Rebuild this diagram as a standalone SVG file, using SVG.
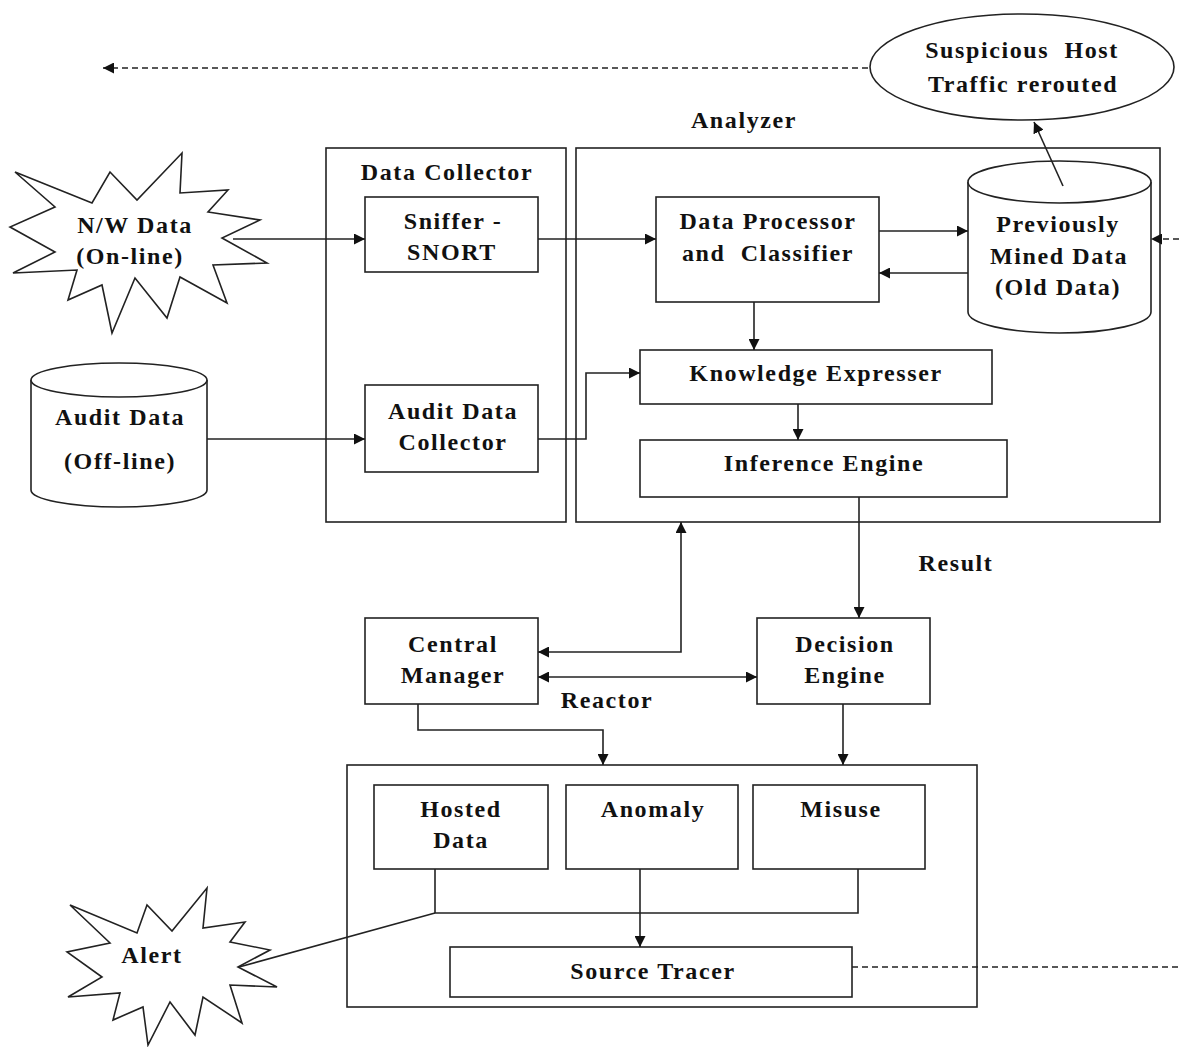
<svg xmlns="http://www.w3.org/2000/svg" width="1179" height="1047" viewBox="0 0 1179 1047">
<defs>
<style>
.b{fill:#fff;stroke:#222;stroke-width:1.6}
.f{fill:none;stroke:#222;stroke-width:1.6}
.c{fill:none;stroke:#222;stroke-width:1.6}
.d{fill:none;stroke:#222;stroke-width:1.6;stroke-dasharray:6 4}
text{font-family:"Liberation Serif","Times New Roman",serif;font-weight:bold;font-size:24px;fill:#111;text-anchor:middle;letter-spacing:1.6px}
</style>
<marker id="ah" viewBox="0 0 10 10" refX="10" refY="5" markerWidth="11" markerHeight="11" markerUnits="userSpaceOnUse" orient="auto-start-reverse">
<path d="M0,0 L10,5 L0,10 z" fill="#111"/>
</marker>
</defs>
<rect width="1179" height="1047" fill="#fff"/>

<g id="data-collector">
<rect class="f" x="326" y="148" width="240" height="374"/>
<text x="447" y="180">Data Collector</text>
</g>
<g id="analyzer">
<rect class="f" x="576" y="148" width="584" height="374"/>
<text x="744" y="128">Analyzer</text>
</g>
<g id="reactor">
<rect class="f" x="347" y="765" width="630" height="242"/>
<text x="607" y="708">Reactor</text>
</g>

<g id="suspicious">
<ellipse class="b" cx="1022" cy="67" rx="152" ry="53"/>
<text x="1022" y="58">Suspicious&#160; Host</text>
<text x="1023" y="92">Traffic rerouted</text>
</g>

<g id="nw-data">
<polygon class="b" points="15,172 92,203 110,172 137,200 182,153 180,193 228,190 208,212 260,220 222,238 267,263 213,265 227,303 180,277 167,318 135,278 112,333 102,285 68,300 77,270 13,273 55,252 10,227 55,207"/>
<text x="135" y="233">N/W Data</text>
<text x="130" y="264">(On-line)</text>
</g>

<g id="audit-data">
<path class="b" d="M31,380 L31,490 A88,17 0 0 0 207,490 L207,380"/>
<ellipse class="b" cx="119" cy="380" rx="88" ry="17"/>
<text x="120" y="425">Audit Data</text>
<text x="120" y="469">(Off-line)</text>
</g>

<g id="sniffer">
<rect class="b" x="365" y="197" width="173" height="75"/>
<text x="453" y="229">Sniffer -</text>
<text x="452" y="260">SNORT</text>
</g>

<g id="audit-collector">
<rect class="b" x="365" y="385" width="173" height="87"/>
<text x="453" y="419">Audit Data</text>
<text x="453" y="450">Collector</text>
</g>

<g id="data-processor">
<rect class="b" x="656" y="197" width="223" height="105"/>
<text x="768" y="229">Data Processor</text>
<text x="768" y="261">and&#160; Classifier</text>
</g>

<g id="previously-mined">
<path class="b" d="M968,182 L968,312 A91.5,21 0 0 0 1151,312 L1151,182"/>
<ellipse class="b" cx="1059.5" cy="182" rx="91.5" ry="21"/>
<text x="1058" y="232">Previously</text>
<text x="1059" y="264">Mined Data</text>
<text x="1058" y="295">(Old Data)</text>
</g>

<g id="knowledge-expresser">
<rect class="b" x="640" y="350" width="352" height="54"/>
<text x="816" y="381">Knowledge Expresser</text>
</g>

<g id="inference-engine">
<rect class="b" x="640" y="440" width="367" height="57"/>
<text x="824" y="471">Inference Engine</text>
</g>

<g id="result-label">
<text x="956" y="571">Result</text>
</g>

<g id="central-manager">
<rect class="b" x="365" y="618" width="173" height="86"/>
<text x="453" y="652">Central</text>
<text x="453" y="683">Manager</text>
</g>

<g id="decision-engine">
<rect class="b" x="757" y="618" width="173" height="86"/>
<text x="845" y="652">Decision</text>
<text x="845" y="683">Engine</text>
</g>

<g id="hosted-data">
<rect class="b" x="374" y="785" width="174" height="84"/>
<text x="461" y="817">Hosted</text>
<text x="461" y="848">Data</text>
</g>
<g id="anomaly">
<rect class="b" x="566" y="785" width="172" height="84"/>
<text x="653" y="817">Anomaly</text>
</g>
<g id="misuse">
<rect class="b" x="753" y="785" width="172" height="84"/>
<text x="841" y="817">Misuse</text>
</g>
<g id="source-tracer">
<rect class="b" x="450" y="947" width="402" height="50"/>
<text x="653" y="979">Source Tracer</text>
</g>

<g id="alert">
<polygon class="b" points="70,905 137,933 147,905 172,931 207,888 203,928 245,922 230,942 270,950 238,967 277,987 230,985 242,1023 203,997 195,1035 170,1002 148,1045 143,1007 113,1020 120,993 68,997 102,977 67,952 110,943"/>
<text x="152" y="963">Alert</text>
</g>

<g id="connectors">
<path class="d" d="M868,68 L103,68" marker-end="url(#ah)"/>
<path class="c" d="M1063,186 L1034,122" marker-end="url(#ah)"/>
<path class="d" d="M1179,239 L1151,239" marker-end="url(#ah)"/>
<path class="c" d="M233,239 L365,239" marker-end="url(#ah)"/>
<path class="c" d="M538,239 L656,239" marker-end="url(#ah)"/>
<path class="c" d="M879,231 L968,231" marker-end="url(#ah)"/>
<path class="c" d="M968,273 L879,273" marker-end="url(#ah)"/>
<path class="c" d="M207,439 L365,439" marker-end="url(#ah)"/>
<path class="c" d="M538,439 L586,439 L586,373 L640,373" marker-end="url(#ah)"/>
<path class="c" d="M754,302 L754,350" marker-end="url(#ah)"/>
<path class="c" d="M798,404 L798,440" marker-end="url(#ah)"/>
<path class="c" d="M859,497 L859,618" marker-end="url(#ah)"/>
<path class="c" d="M538,652 L681,652 L681,522" marker-start="url(#ah)" marker-end="url(#ah)"/>
<path class="c" d="M538,677 L757,677" marker-start="url(#ah)" marker-end="url(#ah)"/>
<path class="c" d="M418,704 L418,730 L603,730 L603,765" marker-end="url(#ah)"/>
<path class="c" d="M843,704 L843,765" marker-end="url(#ah)"/>
<path class="c" d="M435,869 L435,913 L858,913 L858,869"/>
<path class="c" d="M640,869 L640,947" marker-end="url(#ah)"/>
<path class="c" d="M435,913 L239,967"/>
<path class="d" d="M852,967 L1179,967"/>
</g>
</svg>
